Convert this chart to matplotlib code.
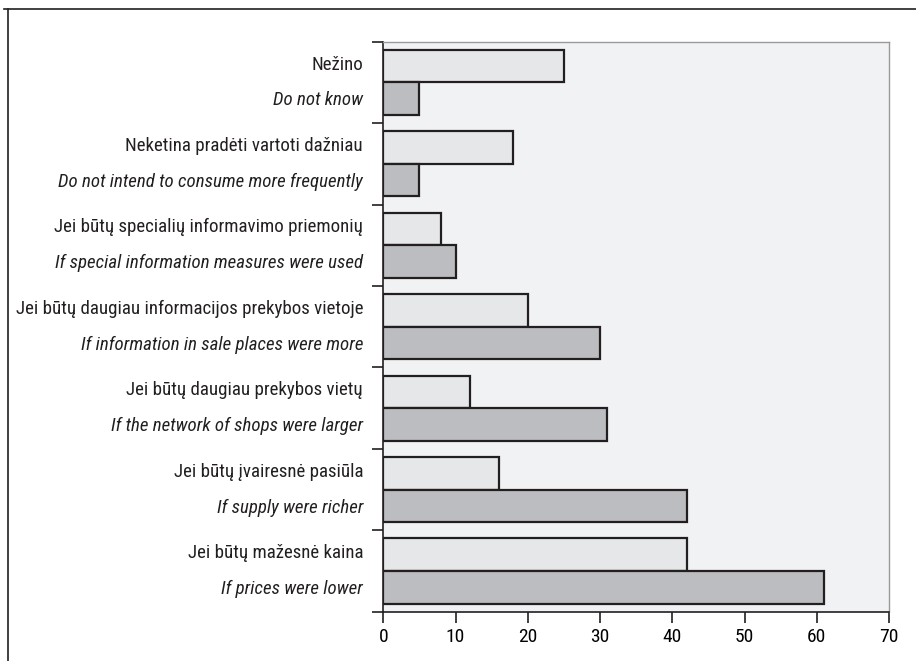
import numpy as np
import matplotlib.pyplot as plt
from matplotlib import font_manager
from matplotlib.lines import Line2D

# kategorijos (iš viršaus į apačią)
labels_lt = ['Nežino', 'Neketina pradėti vartoti dažniau',
             'Jei būtų specialių informavimo priemonių',
             'Jei būtų daugiau informacijos prekybos vietoje',
             'Jei būtų daugiau prekybos vietų',
             'Jei būtų įvairesnė pasiūla',
             'Jei būtų mažesnė kaina']
labels_en = ['Do not know', 'Do not intend to consume more frequently',
             'If special information measures were used',
             'If information in sale places were more',
             'If the network of shops were larger',
             'If supply were richer',
             'If prices were lower']
light_vals = [25, 18, 8, 20, 12, 16, 42]
dark_vals = [5, 5, 10, 30, 31, 42, 61]
xticks = [0, 10, 20, 30, 40, 50, 60, 70]

names = {f.name for f in font_manager.fontManager.ttflist}
prefs = ['Roboto Condensed', 'Fira Sans Condensed', 'PT Sans Narrow',
         'Archivo Narrow', 'Liberation Sans Narrow', 'DejaVu Sans']
fam = next(f for f in prefs if f in names)
plt.rcParams['font.family'] = [fam, 'DejaVu Sans']

W, H = 916, 661
fig = plt.figure(figsize=(W / 100, H / 100), dpi=100)
ax = fig.add_axes([383.3 / W, 1 - 611.7 / H, (889 - 383.3) / W, (611.7 - 41.7) / H])

n = len(labels_lt)
y = np.arange(n)
h = 0.4
edge = '#231f20'
ax.barh(y - h / 2, light_vals, height=h, color='#e6e7e9', edgecolor=edge, linewidth=1.6)
ax.barh(y + h / 2, dark_vals, height=h, color='#bcbdc0', edgecolor=edge, linewidth=1.6)

ax.set_xlim(0, 70)
ax.set_ylim(n - 0.5, -0.5)
ax.set_facecolor('#f1f2f4')
ax.set_xticks(xticks)
ax.tick_params(axis='x', direction='out', length=8, width=1.2, labelsize=14, pad=4, color=edge)
ax.set_yticks(np.arange(n + 1) - 0.5)
ax.set_yticklabels([])
ax.tick_params(axis='y', direction='out', length=8, width=1.2, color=edge)

for s in ['left', 'bottom']:
    ax.spines[s].set_color(edge)
    ax.spines[s].set_linewidth(1.2)
for s in ['top', 'right']:
    ax.spines[s].set_color('#9a9a9a')
    ax.spines[s].set_linewidth(1.0)

for i in range(n):
    ax.text(-0.04, i - h / 2 - 0.02, labels_lt[i], transform=ax.get_yaxis_transform(),
            ha='right', va='center', fontsize=13.6, color=edge)
    ax.text(-0.04, i + h / 2 + 0.02, labels_en[i], transform=ax.get_yaxis_transform(),
            ha='right', va='center', fontsize=13.6, style='italic', color=edge)

# rámeček kolem obrázku
fig.add_artist(Line2D([4 / W, 1], [1 - 9 / H, 1 - 9 / H], color=edge, lw=1.2))
fig.add_artist(Line2D([8 / W, 8 / W], [1 - 9 / H, 0], color=edge, lw=1.2))

fig.savefig('out.png', dpi=100)
